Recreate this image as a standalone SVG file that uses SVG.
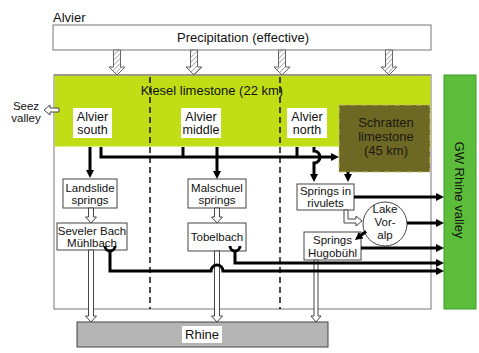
<svg xmlns="http://www.w3.org/2000/svg" width="479" height="353" viewBox="0 0 479 353">
<style>
text{font-family:"Liberation Sans",Arial,sans-serif;fill:#111;text-anchor:middle}
.t13{font-size:13px}
.t12{font-size:12.5px}
.t11{font-size:11.5px}
.box{fill:#fff;stroke:#444;stroke-width:1}
.blk{fill:none;stroke:#000;stroke-width:3}
.hol{fill:#fff;stroke:#444;stroke-width:1}
.hat{fill:url(#hatch);stroke:#666;stroke-width:1}
.dash{stroke:#111;stroke-width:1.5;stroke-dasharray:6 4}
</style>
<defs>
<pattern id="hatch" width="3.5" height="3.5" patternUnits="userSpaceOnUse" patternTransform="rotate(45)">
<rect width="3.5" height="3.5" fill="#fff"/>
<line x1="0" y1="0" x2="0" y2="3.5" stroke="#888" stroke-width="1.2"/>
</pattern>
<marker id="ah" viewBox="0 0 8 8" refX="2" refY="4" markerWidth="8" markerHeight="8" markerUnits="userSpaceOnUse" orient="auto">
<path d="M0,0 L8,4 L0,8 z" fill="#000"/>
</marker>
</defs>
<rect width="479" height="353" fill="#fff"/>

<text class="t13" x="53" y="22" style="text-anchor:start">Alvier</text>

<g id="precipitation">
<rect x="53" y="25" width="378" height="25" fill="#fff" stroke="#777"/>
<text class="t13" x="243" y="42">Precipitation (effective)</text>
</g>

<g id="alvier">
<rect x="54" y="75" width="377" height="234" fill="#fff" stroke="#777"/>
<rect x="54.5" y="75.5" width="376" height="71" fill="#c1dd15"/>
<line x1="54" y1="75" x2="431" y2="75" stroke="#777"/>
<text class="t13" x="212" y="95">Kiesel limestone (22 km)</text>
<line class="dash" x1="150" y1="77" x2="150" y2="309"/>
<line class="dash" x1="280" y1="77" x2="280" y2="309"/>
</g>

<g id="seez">
<text class="t11" x="26" y="110">Seez</text>
<text class="t11" x="26" y="122">valley</text>
</g>

<g id="gw">
<rect x="444" y="75" width="32" height="234" fill="#5cbd3b" stroke="#3f9a2c"/>
<text class="t13" transform="translate(455,190) rotate(90)" x="0" y="0">GW Rhine valley</text>
</g>

<g id="schratten">
<rect x="339" y="105" width="91" height="67" fill="#6d6824" stroke="#c8c070" stroke-dasharray="6 2 1 2"/>
<text class="t13" x="386" y="127" style="fill:#1a1a10">Schratten</text>
<text class="t13" x="386" y="141" style="fill:#1a1a10">limestone</text>
<text class="t13" x="386" y="155" style="fill:#1a1a10">(45 km)</text>
</g>

<g id="alvier-south">
<rect x="73" y="108" width="39" height="30" fill="#fff"/>
<text class="t12" x="92.5" y="121">Alvier</text>
<text class="t12" x="92.5" y="134">south</text>
</g>
<g id="alvier-middle">
<rect x="181" y="108" width="40" height="30" fill="#fff"/>
<text class="t12" x="201" y="121">Alvier</text>
<text class="t12" x="201" y="134">middle</text>
</g>
<g id="alvier-north">
<rect x="287" y="108" width="40" height="30" fill="#fff"/>
<text class="t12" x="307" y="121">Alvier</text>
<text class="t12" x="307" y="134">north</text>
</g>

<g id="landslide">
<rect class="box" x="63" y="179" width="54" height="29"/>
<text class="t11" x="90" y="192">Landslide</text>
<text class="t11" x="90" y="204">springs</text>
</g>
<g id="malschuel">
<rect class="box" x="188" y="179" width="58" height="29"/>
<text class="t11" x="217" y="192">Malschuel</text>
<text class="t11" x="217" y="204">springs</text>
</g>
<g id="seveler">
<rect class="box" x="57" y="223" width="70" height="27"/>
<text class="t11" x="92" y="235">Seveler Bach</text>
<text class="t11" x="92" y="247">Mühlbach</text>
</g>
<g id="tobelbach">
<rect class="box" x="188" y="223" width="58" height="28"/>
<text class="t11" x="217" y="241">Tobelbach</text>
</g>
<g id="rivulets">
<rect class="box" x="297" y="184" width="57" height="26"/>
<text class="t11" x="325.5" y="195">Springs in</text>
<text class="t11" x="325.5" y="207">rivulets</text>
</g>
<g id="lake">
<circle cx="385" cy="224" r="22" fill="#fff" stroke="#444"/>
<text class="t11" x="385" y="213">Lake</text>
<text class="t11" x="385" y="226">Vor-</text>
<text class="t11" x="385" y="239">alp</text>
</g>
<g id="hugobuehl">
<rect class="box" x="304" y="232" width="57" height="28"/>
<text class="t11" x="332.5" y="244">Springs</text>
<text class="t11" x="332.5" y="257">Hugobühl</text>
</g>

<g id="rhine">
<rect x="77" y="322" width="251" height="25" fill="#b5b5b5" stroke="#444"/>
<rect x="182" y="326" width="40" height="17" fill="#fff"/>
<text class="t13" x="202" y="339">Rhine</text>
</g>

<g id="connectors">
<path class="hat" d="M113.5,50 V67 H109 L117,75 L125,67 H120.5 V50 Z"/>
<path class="hat" d="M190.5,50 V67 H186 L194,75 L202,67 H197.5 V50 Z"/>
<path class="hat" d="M278.5,50 V67 H274 L282,75 L290,67 H285.5 V50 Z"/>
<path class="hat" d="M385.5,50 V67 H381 L389,75 L397,67 H392.5 V50 Z"/>

<path class="hol" d="M59,108 H50 V105 L44,110 L50,115 V112 H59 Z"/>

<path class="blk" d="M90,147 V172" marker-end="url(#ah)"/>
<path class="blk" d="M101,147 V157 H333" marker-end="url(#ah)"/>
<path class="blk" d="M183,147 V157"/>
<path class="blk" d="M217,147 V173" marker-end="url(#ah)"/>
<path class="blk" d="M297,147 V157"/>
<path class="blk" d="M314,147 V151 A6,6 0 0 1 314,163 V176" marker-end="url(#ah)"/>
<path class="blk" d="M348,172 V176" marker-end="url(#ah)"/>
<path class="blk" d="M354,197 H438" marker-end="url(#ah)"/>
<path class="blk" d="M407,223 H438" marker-end="url(#ah)"/>
<path class="blk" d="M361,248 H438" marker-end="url(#ah)"/>
<path class="blk" d="M366,231.5 L359.7,236.3" marker-end="url(#ah)"/>

<path class="hol" d="M88.5,208 V217 H85.5 L91,223 L96.5,217 H93.5 V208 Z"/>
<path class="hol" d="M214.5,208 V217 H211.5 L217,223 L222.5,217 H219.5 V208 Z"/>
<path class="hol" d="M88.5,250 V316 H85.5 L91,322 L96.5,316 H93.5 V250 Z"/>
<path class="hol" d="M214.5,251 V316 H211.5 L217,322 L222.5,316 H219.5 V251 Z"/>
<path class="hol" d="M314,260 V316 H311 L316,322 L321,316 H318 V260 Z"/>
<path class="hol" d="M344,210 V223 H356 V226 L362,221 L356,216 V219 H348 V210 Z"/>

<path class="blk" d="M230,246 A5,5 0 0 0 240,246"/>
<path class="blk" d="M235,251 V263 H438" marker-end="url(#ah)"/>
<path class="blk" d="M105,246 A5,5 0 0 0 115,246"/>
<path class="blk" d="M110,251 V271 H211 A6,6 0 0 1 223,271 H438" marker-end="url(#ah)"/>
</g>
</svg>
